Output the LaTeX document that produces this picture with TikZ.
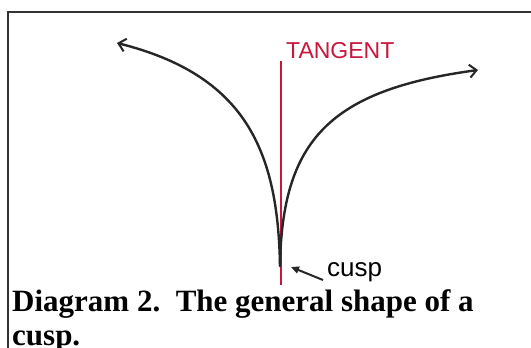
\documentclass[tikz,border=0pt]{standalone}
\usepackage{fontspec}
\setmainfont{Liberation Serif}
\newfontfamily\handfont{Liberation Sans}
\definecolor{inkblack}{HTML}{262626}
\definecolor{tangentred}{HTML}{C8163C}
\definecolor{framegray}{HTML}{333333}
\usetikzlibrary{arrows.meta, positioning, calc}
\tikzset{
  branch/.style={line width=2.4pt, color=inkblack, line cap=round,
    {Straight Barb[length=7pt,width=13pt,line width=2pt]}-},
  tanline/.style={line width=2pt, color=tangentred},
  hand/.style={font=\handfont, inner sep=0pt},
  pointer/.style={-{Triangle[length=8pt,width=7pt]}, line width=2pt, color=inkblack},
  caption/.style={font=\fontsize{31}{34}\selectfont\bfseries, inner sep=0pt,
    anchor=base west, align=left, text=black},
}

\begin{document}
\begin{tikzpicture}[x=1pt, y=-1pt]
    \useasboundingbox (0,0) rectangle (531,348);
    \clip (0,0) rectangle (531,348);
    \fill[white] (0,0) rectangle (531,348);

    % frame
    \draw[line width=1.5pt, framegray] (8,348) -- (8,12) -- (531,12);

    % tangent line
    \coordinate (tantop) at (281,61);
    \coordinate (tanbot) at (281,285);
    \draw[tanline] (tantop) -- (tanbot);

    % the two branches of the cusp
    \coordinate (cusp) at (280,266);
    \coordinate (lefttip) at (117,43);
    \coordinate (righttip) at (478,70);
    \draw[branch] (lefttip) .. controls (245,75) and (278,150) .. (cusp);
    \draw[branch] (righttip) .. controls (330,90) and (282,140) .. (cusp);

    % labels
    \node[hand, text=tangentred, anchor=west, font=\handfont\fontsize{23}{23}\selectfont]
      (tanlabel) at (286,51) {TANGENT};
    \node[hand, anchor=west, font=\handfont\fontsize{26}{26}\selectfont]
      (cusplabel) at (327,272) {cusp};
    \coordinate (cusppt) at (291,267);
    \draw[pointer] (cusplabel.west) ++(-4,8) -- (cusppt);

    % caption (base anchor sits on the last line)
    \node[caption] (diagcap) at (12,345) {Diagram 2.\ \ The general shape of a\\cusp.};
  \end{tikzpicture}
\end{document}
